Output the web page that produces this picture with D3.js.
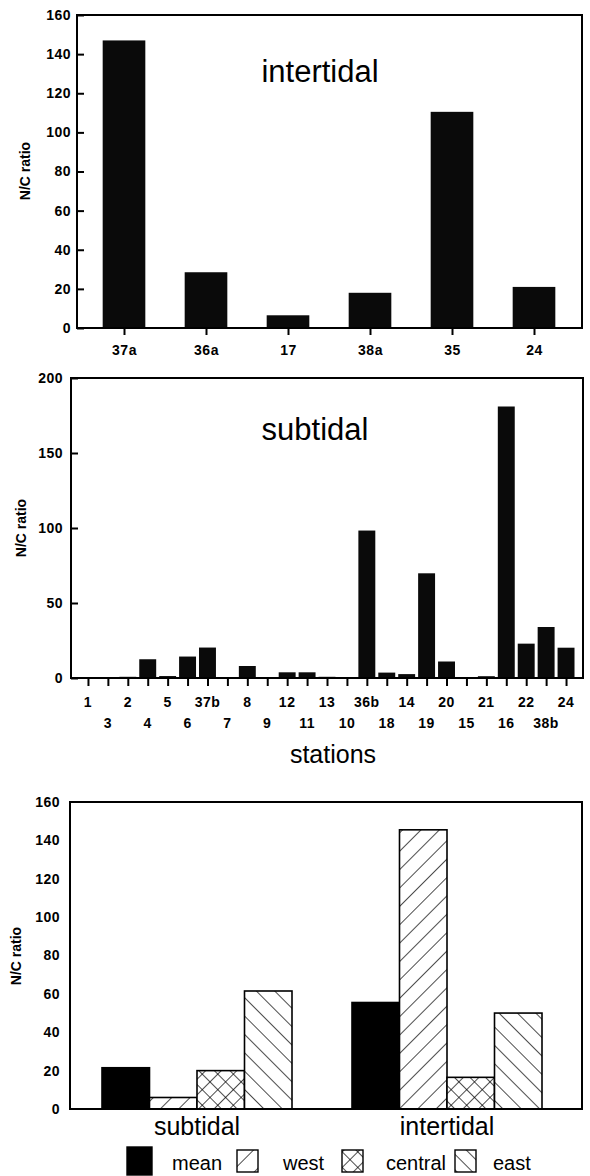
<!DOCTYPE html>
<html><head><meta charset="utf-8">
<script src="https://cdn.jsdelivr.net/npm/d3@7/dist/d3.min.js"></script>
<style>
body{margin:0;background:#fff;}
svg{display:block;}
.tick text{font-family:"Liberation Sans",Arial,sans-serif;font-weight:bold;font-size:14px;fill:#000;letter-spacing:0.5px;}
</style></head>
<body><svg id="c" width="590" height="1176"></svg>
<script>
// ---------- data ----------
const topCats = ["37a","36a","17","38a","35","24"];
const topVals = [147, 28.5, 6.5, 18, 110.5, 21];
const topTicks = [0,20,40,60,80,100,120,140,160];

const subCats = ["1","3","2","4","5","6","37b","7","8","9","12","11","13","10","36b","18","14","19","20","15","21","16","22","38b","24"];
const subVals = [0.3,0.3,0.8,12.5,1.3,14.3,20.3,0.5,8,0.4,3.8,3.8,0.8,0.3,98.3,3.6,2.6,69.8,11,0.3,1.2,181,22.9,34,20.2];
const subTicks = [0,50,100,150,200];

const groupCats = ["subtidal","intertidal"];
const seriesNames = ["mean","west","central","east"];
const subtidalMeans = [21.5, 6, 20, 61.5];
const intertidalMeans = [55.5, 145.5, 16.5, 50];
const bottomTicks = [0,20,40,60,80,100,120,140,160];

// ---------- setup ----------
const svg = d3.select("#c");
svg.append("rect").attr("width",590).attr("height",1176).attr("fill","#fff");
const FONT = '"Liberation Sans",Arial,sans-serif';
const defs = svg.append("defs");
function hatch(id, angle, gap, cross){
  const p = defs.append("pattern").attr("id",id).attr("patternUnits","userSpaceOnUse")
    .attr("width",gap).attr("height",gap).attr("patternTransform",`rotate(${angle})`);
  p.append("rect").attr("width",gap).attr("height",gap).attr("fill","#fff");
  p.append("line").attr("x1",0).attr("y1",0).attr("x2",0).attr("y2",gap).attr("stroke","#000").attr("stroke-width",1.4);
  if(cross) p.append("line").attr("x1",0).attr("y1",0).attr("x2",gap).attr("y2",0).attr("stroke","#000").attr("stroke-width",1.4);
}
hatch("p-west",45,13,false);
hatch("p-east",-45,13,false);
hatch("p-central",45,11,true);
hatch("l-west",45,16,false);
hatch("l-east",-45,11,false);
hatch("l-central",45,11,true);
const fills = {mean:"#000", west:"url(#p-west)", central:"url(#p-central)", east:"url(#p-east)"};
const lfills = {mean:"#000", west:"url(#l-west)", central:"url(#l-central)", east:"url(#l-east)"};

function frame(x0,y0,x1,y1){
  svg.append("rect").attr("x",x0).attr("y",y0).attr("width",x1-x0).attr("height",y1-y0)
    .attr("fill","none").attr("stroke","#000").attr("stroke-width",2);
}
function ylabel(x,y){
  svg.append("text").attr("transform",`translate(${x},${y}) rotate(-90)`)
    .attr("text-anchor","middle").attr("font-family",FONT).attr("font-weight","bold")
    .attr("font-size",14).text("N/C ratio");
}

// ---------- top chart (intertidal stations) ----------
{
  const L=77,R=582,T=15,B=328;
  const x = d3.scaleBand().domain(topCats).range([83,575]).paddingInner(0.48).paddingOuter(0.24);
  const y = d3.scaleLinear().domain([0,160]).range([B,T]);
  svg.append("g").selectAll("rect").data(topCats).join("rect")
    .attr("x",d=>x(d)).attr("width",x.bandwidth())
    .attr("y",(d,i)=>y(topVals[i])).attr("height",(d,i)=>B-y(topVals[i])).attr("fill","#0a0a0a");
  const ya = svg.append("g").attr("transform",`translate(${L},0)`)
    .call(d3.axisLeft(y).tickValues(topTicks).tickSize(-7).tickPadding(6));
  ya.select(".domain").remove();
  ya.selectAll("line").attr("stroke-width",2);
  const xc = d3.scalePoint().domain(topCats).range([x(topCats[0])+x.bandwidth()/2, x(topCats[5])+x.bandwidth()/2]);
  const xa = svg.append("g").attr("transform",`translate(0,${B})`)
    .call(d3.axisBottom(xc).tickSize(7).tickPadding(10));
  xa.select(".domain").remove();
  xa.selectAll("line").attr("stroke-width",2);
  frame(L,T,R,B);
  svg.append("text").attr("x",320).attr("y",82).attr("text-anchor","middle")
    .attr("font-family",FONT).attr("font-size",31).text("intertidal");
  ylabel(30,171);
}

// ---------- middle chart (subtidal stations) ----------
{
  const L=71,R=583,T=378,B=678;
  const x = d3.scaleBand().domain(subCats).range([78,576]).paddingInner(0.15).paddingOuter(0.075);
  const y = d3.scaleLinear().domain([0,200]).range([B,T]);
  svg.append("g").selectAll("rect").data(subCats).join("rect")
    .attr("x",d=>x(d)).attr("width",x.bandwidth())
    .attr("y",(d,i)=>y(subVals[i])).attr("height",(d,i)=>B-y(subVals[i])).attr("fill","#0a0a0a");
  const ya = svg.append("g").attr("transform",`translate(${L},0)`)
    .call(d3.axisLeft(y).tickValues(subTicks).tickSize(-7).tickPadding(8));
  ya.select(".domain").remove();
  ya.selectAll("line").attr("stroke-width",2);
  const xc = d3.scalePoint().domain(subCats).range([x(subCats[0])+x.bandwidth()/2, x(subCats[24])+x.bandwidth()/2]);
  const xa = svg.append("g").attr("transform",`translate(0,${B})`)
    .call(d3.axisBottom(xc).tickSize(8).tickFormat(""));
  xa.select(".domain").remove();
  xa.selectAll("line").attr("stroke-width",2);
  svg.append("g").selectAll("text").data(subCats).join("text")
    .attr("x",d=>xc(d)).attr("y",(d,i)=> i%2===0 ? 707 : 728)
    .attr("text-anchor","middle").attr("font-family",FONT).attr("font-weight","bold")
    .attr("font-size",14).attr("letter-spacing","0.5px").text(d=>d);
  frame(L,T,R,B);
  svg.append("text").attr("x",315).attr("y",440).attr("text-anchor","middle")
    .attr("font-family",FONT).attr("font-size",31).text("subtidal");
  svg.append("text").attr("x",333).attr("y",763).attr("text-anchor","middle")
    .attr("font-family",FONT).attr("font-size",25).text("stations");
  ylabel(26,528);
}

// ---------- bottom chart (means by region) ----------
{
  const L=70,R=582,T=802,B=1109;
  const x0 = d3.scaleBand().domain(groupCats).range([66,578]).paddingInner(0.24).paddingOuter(0.144);
  const x1 = d3.scaleBand().domain(seriesNames).range([0,x0.bandwidth()]);
  const y = d3.scaleLinear().domain([0,160]).range([B,T]);
  const groupVals = {subtidal: subtidalMeans, intertidal: intertidalMeans};
  const g = svg.append("g");
  groupCats.forEach(gc=>{
    g.append("g").selectAll("rect").data(seriesNames).join("rect")
      .attr("x",s=>x0(gc)+x1(s)).attr("width",x1.bandwidth())
      .attr("y",(s,i)=>y(groupVals[gc][i])).attr("height",(s,i)=>B-y(groupVals[gc][i]))
      .attr("fill",s=>fills[s]).attr("stroke","#000").attr("stroke-width",1.6);
  });
  const ya = svg.append("g").attr("transform",`translate(${L},0)`)
    .call(d3.axisLeft(y).tickValues(bottomTicks).tickSize(0).tickPadding(10));
  ya.select(".domain").remove();
  frame(L,T,R,B);
  const xa = svg.append("g").attr("transform",`translate(0,${B})`)
    .call(d3.axisBottom(x0).tickSize(0).tickPadding(8));
  xa.select(".domain").remove();
  xa.selectAll("text").style("font-weight","normal").style("font-size","25px").style("letter-spacing","0px");
  ylabel(21,956);

  // legend
  const lx = {mean:[127,172], west:[237,283], central:[342,386], east:[455,493]};
  const lg = svg.append("g");
  seriesNames.forEach(s=>{
    const [sx,tx] = lx[s];
    const w = s==="mean"?25:21, h = s==="mean"?28:22;
    lg.append("rect").attr("x",sx).attr("y",s==="mean"?1147:1150).attr("width",w).attr("height",h)
      .attr("fill",lfills[s]).attr("stroke","#000").attr("stroke-width",1.4);
    lg.append("text").attr("x",tx).attr("y",1170).attr("font-family",FONT)
      .attr("font-size",20).text(s);
  });
}
</script></body></html>
